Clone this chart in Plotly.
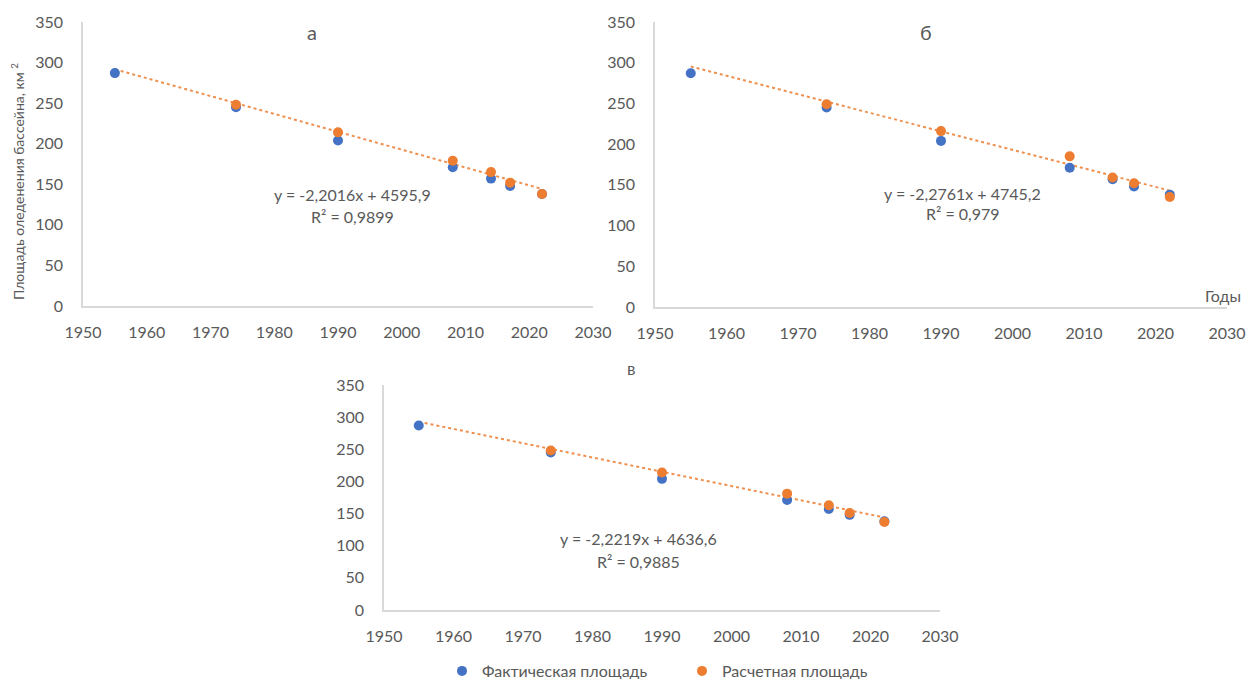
import plotly.graph_objects as go

years = [1955, 1974, 1990, 2008, 2014, 2017, 2022]
actual = [287, 245, 204, 171, 157, 148, 138]
calc_a = [None, 248, 214, 179, 165, 152, 138]
calc_b = [None, 249, 216, 185, 159, 152, 135]
calc_v = [None, 248, 214, 181, 163, 151, 137]
panel_letters = ["а", "б", "в"]
slopes = [-2.2016, -2.2761, -2.2219]
intercepts = [4595.9, 4745.2, 4636.6]
eq_texts = ["y = -2,2016x + 4595,9", "y = -2,2761x + 4745,2", "y = -2,2219x + 4636,6"]
r2_texts = ["R² = 0,9899", "R² = 0,979", "R² = 0,9885"]
x_ticks = [1950, 1960, 1970, 1980, 1990, 2000, 2010, 2020, 2030]
y_ticks = [0, 50, 100, 150, 200, 250, 300, 350]

BLUE = "#4472C4"
ORANGE = "#ED7D31"
GREY = "#595959"
FONT = "Lato"

W, H = 1247, 679


def px(x):
    return x / W


def py(y):
    return 1 - y / H


fig = go.Figure()
calcs = [calc_a, calc_b, calc_v]
for i in range(3):
    xa = "x" if i == 0 else f"x{i+1}"
    ya = "y" if i == 0 else f"y{i+1}"
    tx = [min(years), max(years)]
    ty = [slopes[i] * t + intercepts[i] for t in tx]
    fig.add_trace(go.Scatter(x=tx, y=ty, mode="lines", xaxis=xa, yaxis=ya,
                             line=dict(color=ORANGE, width=2, dash="dot"),
                             opacity=0.85, showlegend=False, hoverinfo="skip"))
    fig.add_trace(go.Scatter(x=years, y=actual, mode="markers", xaxis=xa, yaxis=ya,
                             marker=dict(color=BLUE, size=10),
                             name="Фактическая площадь", showlegend=(i == 0)))
    fig.add_trace(go.Scatter(x=years, y=calcs[i], mode="markers", xaxis=xa, yaxis=ya,
                             marker=dict(color=ORANGE, size=10),
                             name="Расчетная площадь", showlegend=(i == 0)))

# plot-area boxes in screen pixels: (left, right, top, bottom)
boxes = [(83, 593, 22, 306), (655, 1227, 22, 307), (384, 940, 385, 610)]

axis_common = dict(showgrid=False, zeroline=False, showline=True, linecolor="#d9d9d9",
                   linewidth=1.5, ticks="", automargin=False,
                   tickfont=dict(family=FONT, size=16, color=GREY))
layout = {}
for i in range(3):
    xk = "xaxis" if i == 0 else f"xaxis{i+1}"
    yk = "yaxis" if i == 0 else f"yaxis{i+1}"
    ya = "y" if i == 0 else f"y{i+1}"
    xa = "x" if i == 0 else f"x{i+1}"
    l, r, t, b = boxes[i]
    layout[xk] = dict(axis_common, domain=[px(l), px(r)], range=[1950, 2030], tickvals=x_ticks,
                      anchor=ya, ticklabelstandoff=11)
    layout[yk] = dict(axis_common, domain=[py(b), py(t)], range=[0, 350], tickvals=y_ticks,
                      anchor=xa, ticklabelstandoff=15)

fig.update_layout(**layout)

annotations = []
letter_pos = [(312, 32), (926, 32), (631, 369)]
letter_size = [20, 20, 17]
eq_pos = [(352, 195), (963, 193), (638, 538)]
r2_pos = [(352, 217), (963, 213), (638, 561)]


def ann(x, y, text, size, **kw):
    d = dict(x=px(x), y=py(y), xref="paper", yref="paper", text=text, showarrow=False,
             xanchor="center", yanchor="middle",
             font=dict(family=FONT, size=size, color=GREY))
    d.update(kw)
    return d


for i in range(3):
    annotations.append(ann(*letter_pos[i], panel_letters[i], letter_size[i]))
    annotations.append(ann(*eq_pos[i], eq_texts[i], 16))
    annotations.append(ann(*r2_pos[i], r2_texts[i], 16))

annotations.append(ann(18, 182, "Площадь оледенения бассейна, км <sup>2</sup>", 14, textangle=-90))
annotations.append(ann(1223, 295, "Годы", 16))

fig.update_layout(
    annotations=annotations,
    width=W, height=H,
    margin=dict(l=0, r=0, t=0, b=0, autoexpand=False),
    paper_bgcolor="white", plot_bgcolor="white",
    showlegend=True,
    legend=dict(orientation="h", x=px(442), xanchor="left", y=py(671), yanchor="middle",
                font=dict(family=FONT, size=16, color=GREY),
                entrywidth=195, entrywidthmode="pixels", bgcolor="rgba(0,0,0,0)"),
)

fig.write_html("out.html", config={"displayModeBar": False},
               post_script="document.body.style.margin='0';document.body.style.overflow='hidden';")
